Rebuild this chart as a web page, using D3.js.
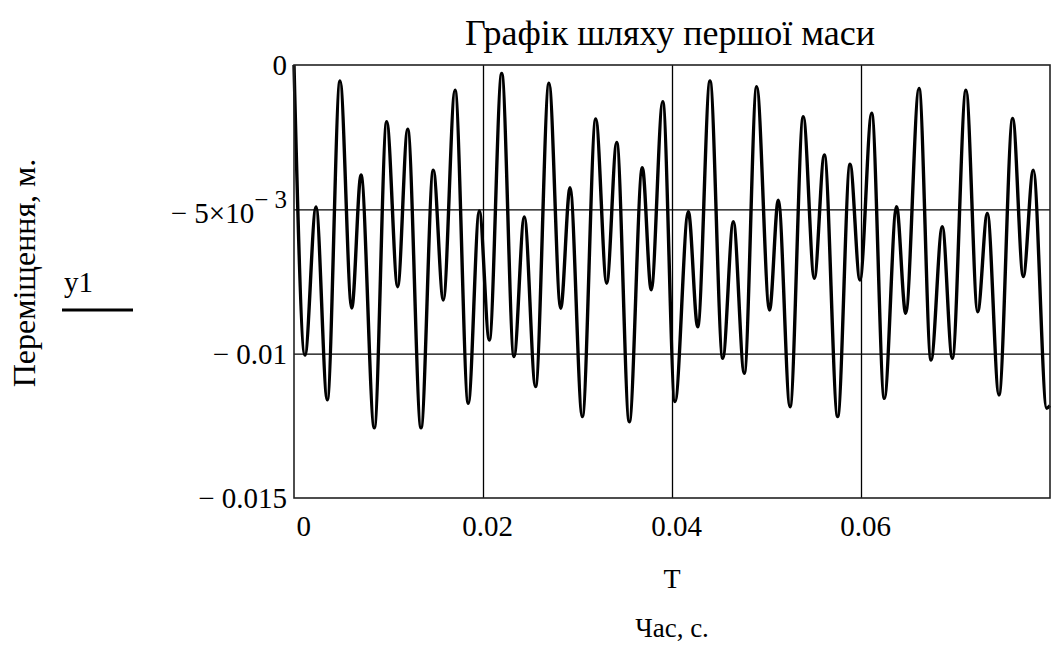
<!DOCTYPE html>
<html>
<head>
<meta charset="utf-8">
<script src="https://cdn.jsdelivr.net/npm/d3@7"></script>
<style>
  html, body { margin: 0; padding: 0; background: #fff; }
  svg text { font-family: "Liberation Serif", "Times New Roman", "DejaVu Serif", serif; fill: #000; }
</style>
</head>
<body>
<svg id="chart" width="1051" height="648"></svg>
<script>
// час (с) - точки екстремумів
const timeValues = [
  0, 0.00116, 0.00233, 0.00352, 0.00487, 0.00611, 0.00709, 0.00850, 0.00981, 0.01097,
  0.01203, 0.01344, 0.01474, 0.01580, 0.01704, 0.01844, 0.01961, 0.02067, 0.02198, 0.02328,
  0.02437, 0.02556, 0.02698, 0.02822, 0.02921, 0.03051, 0.03193, 0.03309, 0.03415, 0.03548,
  0.03686, 0.03780, 0.03902, 0.04032, 0.04173, 0.04272, 0.04402, 0.04537, 0.04649, 0.04765,
  0.04896, 0.05032, 0.05125, 0.05249, 0.05389, 0.05506, 0.05612, 0.05753, 0.05884, 0.05989,
  0.06113, 0.06247, 0.06376, 0.06473, 0.06614, 0.06741, 0.06860, 0.06966, 0.07111, 0.07235,
  0.07337, 0.07460, 0.07605, 0.07717, 0.07823, 0.07965, 0.08
];
// переміщення y1 (м)
const y1Values = [
  0, -0.01005, -0.00492, -0.01160, -0.00055, -0.00842, -0.00381, -0.01257, -0.00196, -0.00768,
  -0.00222, -0.01257, -0.00364, -0.00814, -0.00087, -0.01172, -0.00506, -0.00953, -0.00029, -0.01010,
  -0.00526, -0.01114, -0.00063, -0.00843, -0.00425, -0.01218, -0.00187, -0.00756, -0.00268, -0.01236,
  -0.00356, -0.00779, -0.00127, -0.01166, -0.00508, -0.00907, -0.00055, -0.01016, -0.00543, -0.01068,
  -0.00075, -0.00849, -0.00468, -0.01184, -0.00179, -0.00739, -0.00312, -0.01218, -0.00344, -0.00745,
  -0.00167, -0.01155, -0.00491, -0.00860, -0.00081, -0.01022, -0.00560, -0.01016, -0.00087, -0.00855,
  -0.00514, -0.01143, -0.00185, -0.00733, -0.00364, -0.01189, -0.01180
];

const xTickValues = [0, 0.02, 0.04, 0.06];
const xTickLabels = ['0', '0.02', '0.04', '0.06'];
const yTickValues = [0, -0.005, -0.01, -0.015];
const yTickLabels = ['0', '\u2212 5\u00d710', '\u2212 0.01', '\u2212 0.015'];

const svg = d3.select('#chart');

// межі області побудови
const plotLeft = 294, plotRight = 1050, plotTop = 65, plotBottom = 498;

const x = d3.scaleLinear().domain([0, 0.08]).range([plotLeft, plotRight]);
const y = d3.scaleLinear().domain([-0.015, 0]).range([plotBottom, plotTop]);

// сітка
const grid = svg.append('g');
grid.append('g')
  .attr('transform', `translate(0,${plotBottom})`)
  .call(d3.axisBottom(x).tickValues(xTickValues.slice(1)).tickSize(-(plotBottom - plotTop)).tickFormat(''))
  .call(g => g.select('.domain').remove())
  .call(g => g.selectAll('.tick line').attr('stroke', '#000').attr('stroke-width', 1.3));
grid.append('g')
  .attr('transform', `translate(${plotLeft},0)`)
  .call(d3.axisLeft(y).tickValues([-0.005, -0.01]).tickSize(-(plotRight - plotLeft)).tickFormat(''))
  .call(g => g.select('.domain').remove())
  .call(g => g.selectAll('.tick line').attr('stroke', '#000').attr('stroke-width', 1.3));

// крива y1
const line = d3.line()
  .x((d, i) => x(timeValues[i]))
  .y(d => y(d))
  .curve(d3.curveMonotoneX);

svg.append('path')
  .datum(y1Values)
  .attr('fill', 'none')
  .attr('stroke', '#000')
  .attr('stroke-width', 3.4)
  .attr('d', line);

// рамка
svg.append('rect')
  .attr('x', plotLeft).attr('y', plotTop)
  .attr('width', plotRight - plotLeft).attr('height', plotBottom - plotTop)
  .attr('fill', 'none')
  .attr('stroke', '#222')
  .attr('stroke-width', 1.6);

// підписи осі X
const xAxis = svg.append('g')
  .attr('transform', `translate(0,${plotBottom})`)
  .call(d3.axisBottom(x).tickValues(xTickValues).tickSize(0).tickPadding(0)
    .tickFormat((d, i) => xTickLabels[i]));
xAxis.select('.domain').remove();
xAxis.selectAll('.tick text')
  .attr('y', 38)
  .attr('dy', 0)
  .style('font-size', '29px')
  .attr('text-anchor', (d, i) => i === 0 ? 'start' : 'middle')
  .attr('x', (d, i) => i === 0 ? 2 : 4);

// підписи осі Y
const yAxis = svg.append('g')
  .attr('transform', `translate(${plotLeft},0)`)
  .call(d3.axisLeft(y).tickValues(yTickValues).tickSize(0).tickPadding(0)
    .tickFormat((d, i) => yTickLabels[i]));
yAxis.select('.domain').remove();
yAxis.selectAll('.tick text')
  .attr('x', -7)
  .attr('dy', '0.34em')
  .style('font-size', '29px')
  .each(function (d) {
    if (d === -0.005) {
      const t = d3.select(this);
      t.attr('dy', '0.44em');
      t.append('tspan')
        .attr('dy', '-0.6em')
        .style('font-size', '25px')
        .text('\u2212 3');
    }
  });

// заголовок і назви осей
svg.append('text')
  .attr('x', 670).attr('y', 45)
  .attr('text-anchor', 'middle')
  .style('font-size', '36px')
  .text('Графік шляху першої маси');

svg.append('text')
  .attr('x', 672).attr('y', 588)
  .attr('text-anchor', 'middle')
  .style('font-size', '28px')
  .text('T');

svg.append('text')
  .attr('x', 672).attr('y', 637)
  .attr('text-anchor', 'middle')
  .style('font-size', '27px')
  .text('Час, с.');

svg.append('text')
  .attr('transform', 'translate(35,273) rotate(-90)')
  .attr('text-anchor', 'middle')
  .style('font-size', '32px')
  .text('Переміщення, м.');

// легенда
svg.append('text')
  .attr('x', 64).attr('y', 292)
  .style('font-size', '29px')
  .text('y1');
svg.append('line')
  .attr('x1', 62).attr('x2', 133)
  .attr('y1', 310).attr('y2', 310)
  .attr('stroke', '#000')
  .attr('stroke-width', 3);
</script>
</body>
</html>
